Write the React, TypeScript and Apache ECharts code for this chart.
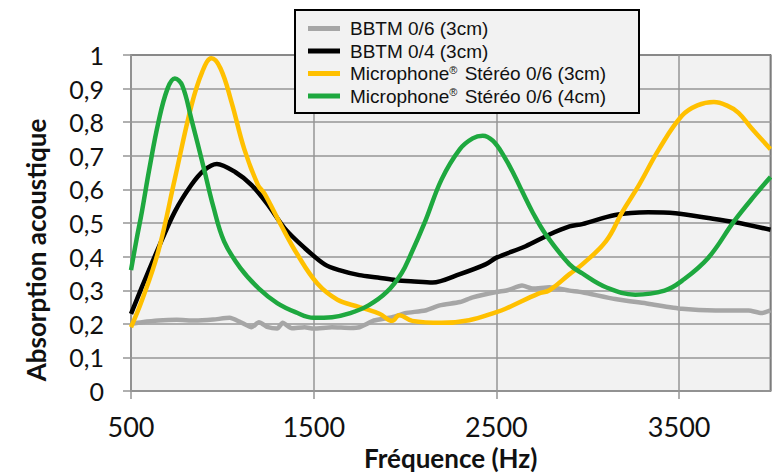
import React, { useEffect, useRef } from "react";
import * as echarts from "echarts";

const SERIES_NAMES = [
  "BBTM 0/6 (3cm)",
  "BBTM 0/4 (3cm)",
  "Microphone® Stéréo 0/6 (3cm)",
  "Microphone® Stéréo 0/6 (4cm)",
];
const SERIES_COLORS = ["#a6a6a6", "#000000", "#ffc000", "#1ea83f"];

const X_TICKS = [500, 1500, 2500, 3500];
const X_MIN = 500;
const X_MAX = 4000;
const Y_MIN = 0;
const Y_MAX = 1;

// [frequency Hz, absorption]
const BBTM_06_3CM: [number, number][] = [
  [500, 0.2], [560, 0.205], [650, 0.21], [750, 0.212], [850, 0.21], [950, 0.213],
  [1040, 0.218], [1100, 0.205], [1160, 0.19], [1200, 0.205], [1250, 0.19], [1300, 0.186],
  [1330, 0.203], [1380, 0.187], [1450, 0.19], [1500, 0.186], [1600, 0.19], [1700, 0.188],
  [1750, 0.19], [1830, 0.21], [1930, 0.22], [2000, 0.232], [2110, 0.24], [2190, 0.255],
  [2300, 0.265], [2370, 0.279], [2500, 0.295], [2560, 0.3], [2640, 0.314], [2700, 0.305],
  [2790, 0.309], [2900, 0.299], [2970, 0.294], [3150, 0.274], [3330, 0.26], [3515, 0.245],
  [3700, 0.24], [3880, 0.24], [3950, 0.232], [4000, 0.24],
];

const BBTM_04_3CM: [number, number][] = [
  [500, 0.23], [560, 0.31], [650, 0.426], [740, 0.534], [830, 0.613], [900, 0.657],
  [970, 0.676], [1070, 0.652], [1160, 0.613], [1250, 0.554], [1340, 0.485], [1450, 0.426],
  [1560, 0.377], [1640, 0.36], [1750, 0.345], [1850, 0.338], [1950, 0.33], [2050, 0.326],
  [2150, 0.323], [2300, 0.348], [2440, 0.377], [2500, 0.397], [2660, 0.431], [2790, 0.466],
  [2900, 0.49], [2970, 0.497], [3150, 0.524], [3330, 0.532], [3480, 0.529], [3660, 0.515],
  [3800, 0.503], [4000, 0.48],
];

const MICRO_06_3CM: [number, number][] = [
  [500, 0.19], [560, 0.27], [650, 0.417], [740, 0.632], [830, 0.848], [890, 0.95],
  [940, 0.99], [990, 0.96], [1050, 0.86], [1120, 0.72], [1195, 0.613], [1230, 0.588],
  [1320, 0.495], [1410, 0.407], [1520, 0.32], [1630, 0.272], [1750, 0.25], [1860, 0.23],
  [1930, 0.209], [1968, 0.226], [2040, 0.209], [2200, 0.203], [2350, 0.211], [2500, 0.235],
  [2550, 0.245], [2730, 0.29], [2790, 0.3], [2900, 0.348], [2970, 0.377], [3100, 0.446],
  [3190, 0.534], [3280, 0.613], [3390, 0.72], [3515, 0.819], [3600, 0.85], [3690, 0.86],
  [3760, 0.85], [3825, 0.828], [3900, 0.78], [4000, 0.72],
];

const MICRO_06_4CM: [number, number][] = [
  [500, 0.36], [530, 0.45], [560, 0.535], [600, 0.66], [650, 0.8], [700, 0.9],
  [740, 0.93], [780, 0.91], [830, 0.81], [900, 0.66], [950, 0.55], [1010, 0.445],
  [1100, 0.365], [1200, 0.305], [1300, 0.262], [1400, 0.235], [1500, 0.218], [1600, 0.22],
  [1700, 0.232], [1800, 0.255], [1900, 0.295], [1980, 0.35], [2030, 0.405], [2110, 0.505],
  [2200, 0.63], [2300, 0.72], [2370, 0.752], [2425, 0.76], [2480, 0.745], [2540, 0.7],
  [2600, 0.64], [2640, 0.595], [2700, 0.53], [2770, 0.466], [2900, 0.377], [2970, 0.35],
  [3100, 0.309], [3260, 0.287], [3420, 0.299], [3515, 0.328], [3660, 0.397], [3800, 0.505],
  [3915, 0.583], [4000, 0.637],
];

const SERIES_DATA = [BBTM_06_3CM, BBTM_04_3CM, MICRO_06_3CM, MICRO_06_4CM];
const SERIES_SMOOTH = [0.2, 0.3, 0.4, 0.4];

const GRID_COLOR = "#969696";

export default function App() {
  const ref = useRef<HTMLDivElement>(null);

  useEffect(() => {
    if (!ref.current) return;
    const chart = echarts.init(ref.current, undefined, { renderer: "svg" });
    const option: any = {
      animation: false,
      backgroundColor: "#ffffff",
      grid: {
        left: 131,
        right: 1.5,
        top: 55,
        bottom: 81,
        show: true,
        backgroundColor: "#f2f2f2",
        borderColor: "#333333",
        borderWidth: 1.5,
      },
      legend: {
        orient: "vertical",
        left: 295,
        top: 10,
        z: 20,
        padding: [9, 0, 7, 13],
        itemWidth: 32,
        itemHeight: 5,
        itemGap: 3.5,
        icon: "rect",
        data: SERIES_NAMES,
        formatter: (name: string) => name.replace("®", "{sup|®}"),
        textStyle: {
          fontFamily: "Liberation Sans",
          fontSize: 19,
          lineHeight: 19,
          color: "#111111",
          padding: [0, 0, 0, 5],
          rich: {
            sup: {
              fontFamily: "Liberation Sans",
              fontSize: 11,
              lineHeight: 19,
              verticalAlign: "top",
              color: "#111111",
              padding: [0, 2, 8, 0],
            },
          },
        },
      },
      xAxis: {
        type: "value",
        min: X_MIN,
        max: X_MAX,
        interval: 1000,
        name: "Fréquence (Hz)",
        nameLocation: "middle",
        nameGap: 53,
        nameTextStyle: {
          fontFamily: "Lato",
          fontWeight: "bold",
          fontSize: 26,
          color: "#111111",
        },
        axisLine: { show: true, lineStyle: { color: GRID_COLOR, width: 1.5 } },
        axisTick: { show: true, inside: false, length: 8, lineStyle: { color: GRID_COLOR, width: 1.5 } },
        axisLabel: {
          fontFamily: "Lato",
          fontSize: 27,
          color: "#111111",
          margin: 22,
          showMaxLabel: false,
          formatter: (v: number) => (X_TICKS.includes(v) ? String(v) : ""),
        },
        splitLine: { show: true, lineStyle: { color: GRID_COLOR, width: 1.5 } },
      },
      yAxis: {
        type: "value",
        min: Y_MIN,
        max: Y_MAX,
        interval: 0.1,
        axisLine: { show: true, lineStyle: { color: GRID_COLOR, width: 1.5 } },
        axisTick: { show: true, inside: false, length: 8, lineStyle: { color: GRID_COLOR, width: 1.5 } },
        axisLabel: {
          fontFamily: "Lato",
          fontSize: 25,
          color: "#111111",
          margin: 27,
          formatter: (v: number) => String(Math.round(v * 10) / 10).replace(".", ","),
        },
        splitLine: { show: true, lineStyle: { color: GRID_COLOR, width: 1.5 } },
      },
      graphic: [
        {
          type: "rect",
          z: 10,
          shape: { x: 295, y: 10, width: 344, height: 103 },
          style: { fill: "#f2f2f2", stroke: "#000000", lineWidth: 2 },
        },
        {
          type: "text",
          x: 36,
          y: 250,
          rotation: Math.PI / 2,
          style: {
            text: "Absorption acoustique",
            fontFamily: "Lato",
            fontWeight: "bold",
            fontSize: 26,
            fill: "#111111",
            textAlign: "center",
            textVerticalAlign: "middle",
          },
        },
      ],
      series: SERIES_NAMES.map((name, i) => ({
        name,
        type: "line",
        data: SERIES_DATA[i],
        smooth: SERIES_SMOOTH[i],
        showSymbol: false,
        symbol: "none",
        color: SERIES_COLORS[i],
        lineStyle: { color: SERIES_COLORS[i], width: 4.5 },
        z: 2 + i,
      })),
    };
    chart.setOption(option);
    return () => chart.dispose();
  }, []);

  return (
    <div
      ref={ref}
      style={{ position: "fixed", left: 0, top: 0, width: 772, height: 476 }}
    />
  );
}
